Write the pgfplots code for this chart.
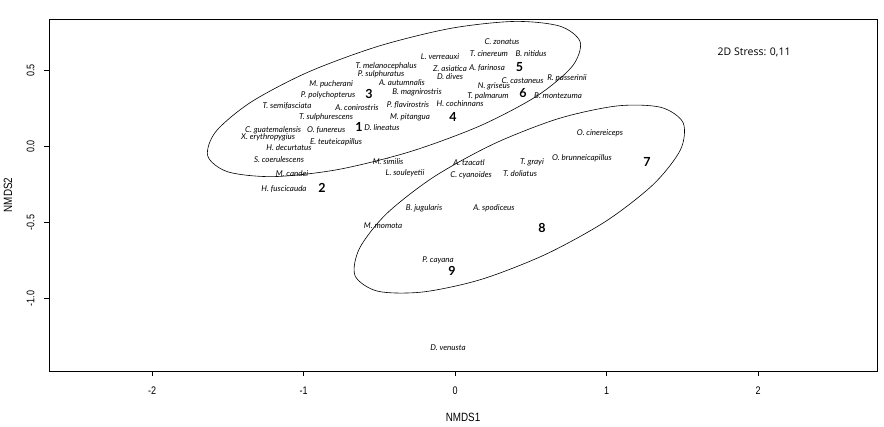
\documentclass[border=0pt]{standalone}
\usepackage{fontspec}
\setmainfont{Liberation Sans}
\newfontfamily\narrow[FakeStretch=0.82]{Liberation Sans}
\newfontfamily\lato{Lato}
\newfontfamily\osans{Open Sans}
\usepackage{pgfplots}
\usepackage{pgfplotstable}
\pgfplotsset{compat=1.18}

% species positions (NMDS1, NMDS2)
\pgfplotstableread[col sep=comma]{
x,y,lab
0.310,0.688,C. zonatus
0.224,0.609,T. cinereum
0.502,0.609,B. nitidus
-0.099,0.589,L. verreauxi
-0.455,0.525,T. melanocephalus
-0.033,0.510,Z. asiatica
0.212,0.516,A. farinosa
-0.488,0.477,P. sulphuratus
-0.033,0.457,D. dives
0.446,0.436,C. castaneus
0.739,0.451,R. passerinii
-0.350,0.422,A. autumnalis
0.257,0.398,N. griseus
-0.818,0.411,M. pucherani
-0.251,0.359,B. magnirostris
-0.838,0.339,P. polychopterus
0.218,0.332,T. palmarum
0.680,0.332,B. montezuma
-1.109,0.266,T. semifasciata
-0.647,0.253,A. conirostris
-0.310,0.273,P. flavirostris
0.033,0.280,H. cochinnans
-0.851,0.194,T. sulphurescens
-0.297,0.194,M. pitangua
-0.482,0.122,D. lineatus
-1.201,0.109,C. guatemalensis
-0.851,0.109,O. funereus
-1.234,0.062,X. erythropygius
-0.785,0.030,E. teuteicapillus
-1.096,-0.010,H. decurtatus
-1.162,-0.089,S. coerulescens
-0.442,-0.102,M. similis
-0.330,-0.174,L. souleyetii
-1.076,-0.181,M. candei
-1.129,-0.280,H. fuscicauda
0.957,0.089,O. cinereiceps
0.838,-0.076,O. brunneicapillus
0.508,-0.102,T. grayi
0.092,-0.109,A. tzacatl
0.106,-0.188,C. cyanoides
0.429,-0.181,T. doliatus
-0.205,-0.405,B. jugularis
0.257,-0.405,A. spodiceus
-0.475,-0.523,M. momota
-0.112,-0.747,P. cayana
-0.046,-1.326,D. venusta
}\species

% group numbers
\pgfplotstableread[col sep=comma]{
x,y,lab
-0.634,0.128,1
-0.878,-0.273,2
-0.568,0.345,3
-0.013,0.194,4
0.425,0.522,5
0.449,0.352,6
1.267,-0.102,7
0.574,-0.536,8
-0.020,-0.819,9
}\groups

\begin{document}
\begin{tikzpicture}
\begin{axis}[
  scale only axis,
  width=828pt, height=352pt,
  xmin=-2.680, xmax=2.785,
  ymin=-1.477, ymax=0.839,
  axis line style={line width=0.8pt},
  tick align=outside,
  major tick length=5pt,
  every tick/.style={black, line width=0.6pt},
  xtick pos=bottom, ytick pos=left,
  xtick={-2,-1,0,1,2},
  xticklabels={-2,-1,0,1,2},
  ytick={-1,-0.5,0,0.5},
  yticklabels={-1.0,-0.5,0.0,0.5},
  ticklabel style={font=\narrow\fontsize{11}{13}\selectfont},
  xticklabel shift=7pt,
  yticklabel style={rotate=90, anchor=south},
  yticklabel shift=6pt,
  xlabel={NMDS1}, ylabel={NMDS2},
  label style={font=\narrow\fontsize{12}{14}\selectfont},
  xlabel style={at={([yshift=-46pt]axis description cs:0.5,0)}, anchor=center},
  ylabel style={at={([xshift=-41pt]axis description cs:0,0.5)}, anchor=center},
]
% ellipse outlines
\addplot[black, line width=0.6pt, smooth cycle] coordinates {
(0.826,0.688) (0.692,0.792) (0.391,0.823) (-0.031,0.777)
(-0.509,0.659) (-0.971,0.489) (-1.347,0.292) (-1.579,0.098)
(-1.632,-0.063) (-1.498,-0.167) (-1.197,-0.198) (-0.775,-0.152)
(-0.297,-0.034) (0.165,0.136) (0.541,0.333) (0.773,0.527)};
\addplot[black, line width=0.6pt, smooth cycle] coordinates {
(1.505,0.157) (1.358,0.258) (1.070,0.267) (0.684,0.184)
(0.259,0.019) (-0.140,-0.200) (-0.452,-0.442) (-0.630,-0.669)
(-0.660,-0.850) (-0.510,-0.952) (-0.212,-0.957) (0.174,-0.874)
(0.599,-0.709) (0.998,-0.490) (1.310,-0.248) (1.488,-0.021)};

\addplot[only marks, mark=none, point meta=explicit symbolic,
  nodes near coords,
  nodes near coords style={anchor=center, inner sep=0pt,
    font=\lato\itshape\fontsize{8}{10}\selectfont}]
  table[x=x, y=y, meta=lab] {\species};

\addplot[only marks, mark=none, point meta=explicit symbolic,
  nodes near coords,
  nodes near coords style={anchor=center, inner sep=0pt,
    font=\lato\bfseries\fontsize{12.5}{14}\selectfont}]
  table[x=x, y=y, meta=lab] {\groups};

\node[font=\osans\fontsize{10.5}{12}\selectfont] at (axis cs:1.974,0.622) {2D Stress: 0,11};
\end{axis}
\pgfresetboundingbox
\path[use as bounding box] ([xshift=-49pt,yshift=-55pt]current axis.south west)
  rectangle ([xshift=7pt,yshift=19pt]current axis.north east);
\end{tikzpicture}
\end{document}
